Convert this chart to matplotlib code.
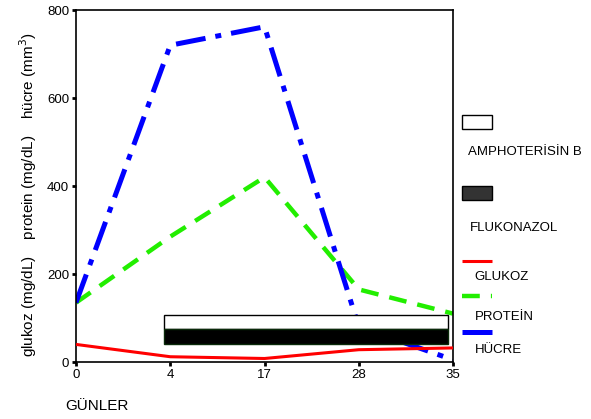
import matplotlib
matplotlib.use("Agg")
import matplotlib.pyplot as plt
from matplotlib.patches import Rectangle
from matplotlib.lines import Line2D

plt.rcParams['font.family'] = ['Liberation Sans', 'DejaVu Sans']
plt.rcParams['lines.dash_capstyle'] = 'butt'
plt.rcParams['lines.solid_capstyle'] = 'butt'

# data
days = ['0', '4', '17', '28', '35']
glukoz = [40, 12, 8, 28, 32]
protein = [135, 285, 420, 165, 110]
hucre = [135, 720, 762, 80, 5]

# treatment bars (category index units, value range)
amph_span = (0.93, 3.95)
amph_range = (74, 108)
fluk_span = (0.93, 3.95)
fluk_range = (40, 74)

fig = plt.figure(figsize=(5.91, 4.19), dpi=100)
ax = fig.add_axes([0.1286, 0.136, 0.638, 0.84])

x = list(range(len(days)))
ax.add_patch(Rectangle((amph_span[0], amph_range[0]), amph_span[1] - amph_span[0],
                       amph_range[1] - amph_range[0], facecolor='white',
                       edgecolor='black', lw=1.0, zorder=3))
ax.add_patch(Rectangle((fluk_span[0], fluk_range[0]), fluk_span[1] - fluk_span[0],
                       fluk_range[1] - fluk_range[0], facecolor='black',
                       edgecolor='#0a2a0a', lw=1.0, zorder=3))

ax.plot(x, glukoz, color='red', lw=2.2, zorder=4)
ax.plot(x, protein, color='#22ee00', lw=3.2, dashes=(4, 2.5), zorder=2)
ax.plot(x, hucre, color='#0000ff', lw=3.6, dashes=(6, 2, 1.2, 2), zorder=2)

ax.set_xlim(0, 4)
ax.set_ylim(0, 800)
ax.set_xticks(x)
ax.set_xticklabels(days)
ax.set_yticks([0, 200, 400, 600, 800])
ax.tick_params(direction='out', length=3, width=2, labelsize=9.5, pad=2)
for s in ax.spines.values():
    s.set_linewidth(1.2)

fig.text(0.047, 0.535, 'glukoz (mg/dL)    protein (mg/dL)    hücre (mm$^3$)',
         rotation=90, ha='center', va='center', fontsize=11)
fig.text(0.11, 0.03, 'GÜNLER', ha='left', va='center', fontsize=11)

# legend panel (handles above labels)
lax = fig.add_axes([0.77, 0.1, 0.23, 0.68])
lax.set_xlim(0, 135)
lax.set_ylim(300, 0)
lax.axis('off')
lax.add_patch(Rectangle((7, 105 - 81), 30, 15, facecolor='white', edgecolor='black', lw=1))
lax.add_patch(Rectangle((7, 180 - 81), 30, 15, facecolor='#333333', edgecolor='black', lw=1))
lax.add_line(Line2D([7, 37], [259 - 81, 259 - 81], color='red', lw=2.2))
lax.add_line(Line2D([7, 37], [296 - 81, 296 - 81], color='#22ee00', lw=3.2, dashes=(4, 2.5)))
lax.add_line(Line2D([7, 37], [334 - 81, 334 - 81], color='#0000ff', lw=3.6, dashes=(6, 2, 1.2, 2)))
labels = [('AMPHOTERİSİN B', 144, 13), ('FLUKONAZOL', 224, 15),
          ('GLUKOZ', 276, 19), ('PROTEİN', 318, 20), ('HÜCRE', 352, 20)]
for txt, yy, xx in labels:
    lax.text(xx, yy - 81, txt, ha='left', va='center', fontsize=9.5)

fig.savefig('out.png', dpi=100)
